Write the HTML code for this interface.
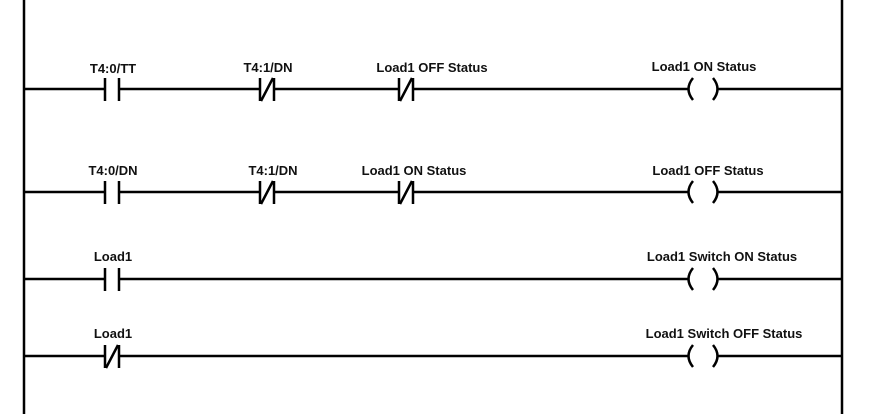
<!DOCTYPE html>
<html><head><style>
html,body{margin:0;padding:0;background:#fff;}
svg text{font-family:"Liberation Sans",Arial,sans-serif;font-weight:bold;font-size:13px;fill:#111;text-anchor:middle;}
</style></head><body>
<svg width="869" height="414" viewBox="0 0 869 414" xmlns="http://www.w3.org/2000/svg">
<g stroke="#000" stroke-width="2.5" fill="none">
<line x1="24" y1="0" x2="24" y2="414"/>
<line x1="842" y1="0" x2="842" y2="414"/>
<path d="M24 89H105M119 89H260M274 89H399M413 89H688M718 89H842"/>
<path d="M105 78V101M119 78V101"/>
<path d="M260 78V101M274 78V101M261 101L273 78"/>
<path d="M399 78V101M413 78V101M400 101L412 78"/>
<path d="M693 78Q684 89 693 100M713 78Q722 89 713 100"/>
<path d="M24 192H105M119 192H260M274 192H399M413 192H688M718 192H842"/>
<path d="M105 181V204M119 181V204"/>
<path d="M260 181V204M274 181V204M261 204L273 181"/>
<path d="M399 181V204M413 181V204M400 204L412 181"/>
<path d="M693 181Q684 192 693 203M713 181Q722 192 713 203"/>
<path d="M24 279H105M119 279H688M718 279H842"/>
<path d="M105 268V291M119 268V291"/>
<path d="M693 268Q684 279 693 290M713 268Q722 279 713 290"/>
<path d="M24 356H105M119 356H688M718 356H842"/>
<path d="M105 345V368M119 345V368M106 368L118 345"/>
<path d="M693 345Q684 356 693 367M713 345Q722 356 713 367"/>
</g>
<text x="113" y="73">T4:0/TT</text>
<text x="268" y="72">T4:1/DN</text>
<text x="432" y="72">Load1 OFF Status</text>
<text x="704" y="71">Load1 ON Status</text>
<text x="113" y="175">T4:0/DN</text>
<text x="273" y="175">T4:1/DN</text>
<text x="414" y="175">Load1 ON Status</text>
<text x="708" y="175">Load1 OFF Status</text>
<text x="113" y="261">Load1</text>
<text x="722" y="261">Load1 Switch ON Status</text>
<text x="113" y="338">Load1</text>
<text x="724" y="338">Load1 Switch OFF Status</text>
</svg>
</body></html>
